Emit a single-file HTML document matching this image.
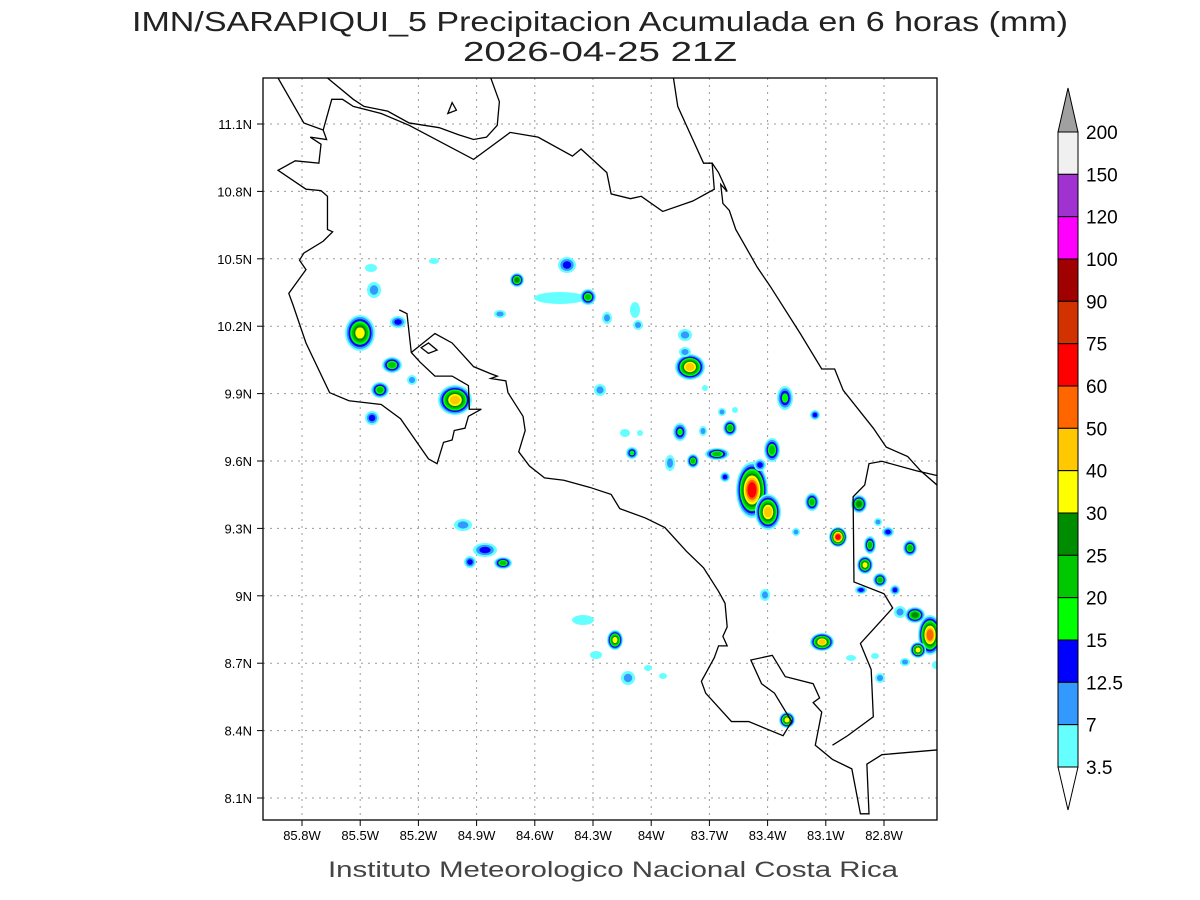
<!DOCTYPE html>
<html><head><meta charset="utf-8"><style>
html,body{margin:0;padding:0;background:#fff;}
svg{display:block;}
text{font-family:"Liberation Sans",sans-serif;}
</style></head><body>
<svg id="s" width="1200" height="900" xmlns="http://www.w3.org/2000/svg">
<rect width="1200" height="900" fill="#fff"/>
<text x="132" y="31" font-size="28" fill="#222" textLength="936" lengthAdjust="spacingAndGlyphs">IMN/SARAPIQUI_5 Precipitacion Acumulada en 6 horas (mm)</text>
<text x="463" y="61" font-size="28" fill="#222" textLength="274" lengthAdjust="spacingAndGlyphs">2026-04-25 21Z</text>
<defs><clipPath id="c"><rect x="263" y="78" width="674" height="742"/></clipPath></defs>
<g id="grid" stroke="#999" stroke-width="1" stroke-dasharray="2,5"></g>
<g id="blobs" clip-path="url(#c)"></g>
<g clip-path="url(#c)"><g transform="translate(263,78) scale(0.4298,0.4732)" fill="none" stroke="#000" stroke-width="1.3">
<path vector-effect="non-scaling-stroke" d="M35,0 L95,95 L140,110 L148,130 L110,125 L135,140 L130,180 L75,175 L35,195 L100,235 L135,238 L150,250 L150,320 L162,325 L140,345 L95,370 L85,385 L100,405 L60,455 L70,480 L100,560 L155,665 L200,682 L275,690 L320,720 L385,805 L405,815 L420,770 L440,765 L445,745 L470,740 L478,715 L508,700 L480,700 L478,650 L440,630 L400,630 L365,600 L345,580 L335,498 L317,490"/>
<path vector-effect="non-scaling-stroke" d="M345,580 L400,540 L440,560 L470,590 L490,610 L530,625 L545,630 L530,635 L565,640 L570,665 L605,715 L610,745 L595,790 L620,820 L655,845 L700,850 L760,865 L810,880 L830,910 L890,930 L935,950 L985,1000 L1025,1035 L1060,1085 L1075,1110 L1080,1160 L1070,1180 L1080,1200 L1060,1200 L1050,1225 L1020,1275 L1030,1300 L1090,1360 L1130,1360 L1210,1390 L1230,1360 L1190,1300 L1160,1280 L1135,1230 L1185,1220 L1215,1265 L1280,1280 L1295,1310 L1280,1320 L1300,1340 L1285,1410 L1325,1440 L1370,1460 L1390,1555 L1410,1555 L1405,1450 L1440,1430 L1568,1420"/>
<path vector-effect="non-scaling-stroke" d="M1325,1410 L1360,1390 L1420,1350 L1415,1250 L1390,1195 L1415,1170 L1465,1120 L1445,1090 L1375,1065 L1373,885 L1400,860 L1410,815 L1440,810 L1520,830 L1568,840"/>
<path vector-effect="non-scaling-stroke" d="M955,0 L965,60 L1000,130 L1025,180 L1045,180 L1050,235 L1000,260 L930,282 L880,250 L855,255 L810,245 L800,200 L740,150 L720,165 L640,125 L575,115 L490,172 L340,100 L275,75 L210,60 L185,45 L160,45 L140,110"/>
<path vector-effect="non-scaling-stroke" d="M1045,180 L1060,200 L1080,240 L1065,225 L1070,265 L1085,280 L1100,320 L1150,400 L1180,440 L1250,540 L1300,615 L1330,615 L1350,660 L1420,740 L1450,780 L1500,800 L1530,830 L1568,860"/>
<path vector-effect="non-scaling-stroke" d="M150,0 L210,45 L235,60 L290,70 L340,95 L410,105 L455,120 L490,130 L520,125 L545,100 L550,50 L530,0"/>
<path vector-effect="non-scaling-stroke" d="M430,75 L440,52 L450,68 Z"/>
<path vector-effect="non-scaling-stroke" d="M368,570 L385,560 L405,575 L385,582 Z"/>
</g></g>
<rect x="263" y="78" width="674" height="742" fill="none" stroke="#000" stroke-width="1.3"/>
<g id="labels" font-size="13" fill="#000"></g>
<text x="328" y="877" font-size="22" fill="#444" textLength="570" lengthAdjust="spacingAndGlyphs">Instituto Meteorologico Nacional Costa Rica</text>
<g id="cbar"></g>
</svg>
<script>
var NS="http://www.w3.org/2000/svg",s=document.getElementById('s');
function el(p,t,a){var e=document.createElementNS(NS,t);for(var k in a)e.setAttribute(k,a[k]);p.appendChild(e);return e;}
var g=document.getElementById('grid'),L=document.getElementById('labels');
var lons=["85.8W","85.5W","85.2W","84.9W","84.6W","84.3W","84W","83.7W","83.4W","83.1W","82.8W"];
for(var i=0;i<11;i++){var x=302+i*58.2;el(g,'line',{x1:x,y1:78,x2:x,y2:820});
 el(L,'line',{x1:x,y1:820,x2:x,y2:826,stroke:'#000'});
 var t=el(L,'text',{x:x,y:840,'text-anchor':'middle'});t.textContent=lons[i];}
var lats=["11.1N","10.8N","10.5N","10.2N","9.9N","9.6N","9.3N","9N","8.7N","8.4N","8.1N"];
for(var i=0;i<11;i++){var y=124+i*67.4;el(g,'line',{x1:263,y1:y,x2:937,y2:y});
 el(L,'line',{x1:257,y1:y,x2:263,y2:y,stroke:'#000'});
 var t=el(L,'text',{x:252,y:y+5,'text-anchor':'end'});t.textContent=lats[i];}
var C=["#66ffff","#3399ff","#0000ff","#00ff00","#00c800","#008c00","#ffff00","#ffc800","#ff6600","#ff0000"];
var B=document.getElementById('blobs');
var bl=[[360,333,15,18,6],[392,365,10,8,4],[380,390,9,8,4],[372,418,7,7,2],[374,290,7,8,1],[398,322,8,6,2],[455,400,17,15,7],[412,380,5,5,1],[371,268,6,4,0],[434,261,5,3,0],[517,280,7,7,5],[567,265,9,8,2],[560,298,26,6,0],[588,297,8,8,4],[500,314,6,4,1],[607,318,5,6,1],[635,310,5,8,0],[638,325,5,5,1],[600,390,6,6,1],[632,453,6,6,3],[685,335,7,6,1],[690,367,15,13,7],[680,432,7,9,3],[693,461,6,7,4],[717,454,12,6,4],[725,477,5,5,2],[730,428,7,8,4],[752,490,16,28,9],[768,512,13,18,7],[772,450,8,12,4],[785,398,8,12,3],[815,415,5,5,2],[812,502,7,9,4],[838,537,9,10,9],[859,504,8,9,5],[870,545,6,9,4],[865,565,8,9,6],[880,580,7,7,4],[888,532,6,5,2],[910,548,7,8,4],[895,590,5,5,2],[915,615,10,8,5],[930,635,12,20,8],[918,650,8,8,6],[822,642,12,9,7],[787,720,8,8,6],[765,595,5,6,1],[615,640,8,10,6],[583,620,11,5,0],[596,655,6,4,0],[628,678,7,7,1],[648,668,4,3,0],[663,676,4,3,0],[463,525,9,6,1],[485,550,12,7,2],[503,563,9,6,4],[470,562,6,6,2],[735,410,3,3,0],[760,465,6,6,2],[625,433,5,4,0],[640,433,3,3,0],[670,463,5,8,1],[703,431,4,5,1],[722,412,4,4,1],[796,532,4,4,1],[851,658,5,3,0],[875,656,4,3,0],[880,678,5,5,1],[905,662,5,4,1],[936,665,4,4,0],[900,612,6,6,1],[861,590,6,4,2],[878,522,4,4,1],[685,352,6,5,1],[705,388,3,3,0]];
bl.forEach(function(b){var m=b[4];for(var l=0;l<=m;l++){var f=1-l*0.8/(m+1);
 el(B,'ellipse',{cx:b[0],cy:b[1],rx:b[2]*f,ry:b[3]*f,fill:C[l]});}});
var cb=document.getElementById('cbar');
var CC=["#f0f0f0","#a032d2","#ff00ff","#a00000","#d23200","#ff0000","#ff6600","#ffc800","#ffff00","#008c00","#00c800","#00ff00","#0000ff","#3399ff","#66ffff"];
var labs=["200","150","120","100","90","75","60","50","40","30","25","20","15","12.5","7","3.5"];
el(cb,'polygon',{points:"1058,132 1068,88 1078,132",fill:"#a0a0a0",stroke:"#000"});
el(cb,'polygon',{points:"1058,767 1068,810 1078,767",fill:"#fff",stroke:"#000"});
var h=635/15;
for(var i=0;i<15;i++)el(cb,'rect',{x:1058,y:132+i*h,width:20,height:h,fill:CC[i],stroke:"#000","stroke-width":1});
for(var i=0;i<16;i++){var t=el(cb,'text',{x:1086,y:132+i*h+7,'font-size':19,fill:'#000'});t.textContent=labs[i];}
</script>
</body></html>
